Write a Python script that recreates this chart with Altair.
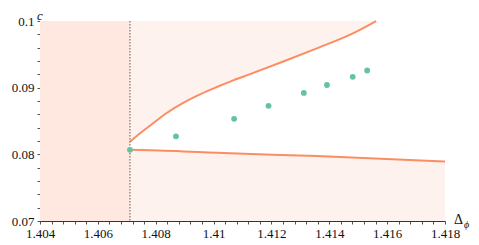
import altair as alt
import pandas as pd

# ---- data ----
x_major = [1.404, 1.406, 1.408, 1.41, 1.412, 1.414, 1.416, 1.418]
y_major = [0.07, 0.08, 0.09, 0.1]
x_ticks = [round(1.404 + 0.0004 * k, 4) for k in range(36)]
y_ticks = [round(0.07 + 0.002 * k, 3) for k in range(16)]

x_bound = 1.40711  # dotted vertical line

upper_x = [1.40711, 1.40746, 1.40780, 1.40838, 1.40895, 1.40953, 1.41011,
           1.41068, 1.41126, 1.41241, 1.41357, 1.41472, 1.41562]
upper_c = [0.08187, 0.08315, 0.08429, 0.08620, 0.08772, 0.08900, 0.09010,
           0.09110, 0.09203, 0.09392, 0.09590, 0.09795, 0.1000]

lower_x = [1.40711, 1.40780, 1.41057, 1.41357, 1.41800]
lower_c = [0.08067, 0.08062, 0.08015, 0.07975, 0.07893]

pts_x = [1.40711, 1.40870, 1.41071, 1.41190, 1.41312, 1.41392, 1.41481, 1.41531]
pts_c = [0.08067, 0.08270, 0.08533, 0.08727, 0.08921, 0.09040, 0.09163, 0.09258]

xdom = [1.404, 1.418]
ydom = [0.07, 0.1]

ORANGE = "#fc8d62"
GREEN = "#66c2a5"
FONT = "Liberation Serif"

up = pd.DataFrame({"x": upper_x, "c": upper_c})
lo = pd.DataFrame({"x": lower_x, "c": lower_c})
pts = pd.DataFrame({"x": pts_x, "c": pts_c})

xs = alt.Scale(domain=xdom, nice=False, zero=False)
ys = alt.Scale(domain=ydom, nice=False, zero=False)

lab_x = "indexof(%s, datum.value) >= 0 ? format(datum.value, '~g') : ''" % str(x_major)
lab_y = "indexof(%s, datum.value) >= 0 ? format(datum.value, '~g') : ''" % str(y_major)

x_axis = alt.Axis(values=x_ticks, tickCount=200, labelExpr=lab_x, title=None)
y_axis = alt.Axis(values=y_ticks, tickCount=200, labelExpr=lab_y, title=None)

left_rect = alt.Chart(pd.DataFrame({"x": [xdom[0]], "x2": [x_bound],
                                     "y": [ydom[0]], "y2": [ydom[1]]})).mark_rect(
    color="#fee8e0").encode(
    x=alt.X("x:Q", scale=xs, axis=x_axis), x2="x2:Q",
    y=alt.Y("y:Q", scale=ys, axis=y_axis), y2="y2:Q")

area_up = alt.Chart(up).mark_area(color="#fef2ee", opacity=1, interpolate="monotone").encode(
    x=alt.X("x:Q", scale=xs), y=alt.Y("c:Q", scale=ys), y2=alt.datum(ydom[1]))

area_lo = alt.Chart(lo).mark_area(color="#fef2ee", opacity=1, interpolate="monotone").encode(
    x=alt.X("x:Q", scale=xs), y=alt.Y("c:Q", scale=ys), y2=alt.datum(ydom[0]))

line_up = alt.Chart(up).mark_line(color=ORANGE, strokeWidth=2, interpolate="monotone").encode(
    x=alt.X("x:Q", scale=xs), y=alt.Y("c:Q", scale=ys))
line_lo = alt.Chart(lo).mark_line(color=ORANGE, strokeWidth=2, interpolate="monotone").encode(
    x=alt.X("x:Q", scale=xs), y=alt.Y("c:Q", scale=ys))

rule = alt.Chart(pd.DataFrame({"x": [x_bound]})).mark_rule(
    color="#6a5a55", strokeDash=[1.5, 1.5], strokeWidth=1).encode(
    x=alt.X("x:Q", scale=xs))

points = alt.Chart(pts).mark_circle(color=GREEN, size=34, opacity=1).encode(
    x=alt.X("x:Q", scale=xs), y=alt.Y("c:Q", scale=ys))

t_c = alt.Chart(pd.DataFrame({"t": ["c"]})).mark_text(
    font=FONT, fontSize=13, fontStyle="italic", align="center", baseline="alphabetic",
    color="#111").encode(text="t:N", x=alt.value(0), y=alt.value(-1.5))
t_d = alt.Chart(pd.DataFrame({"t": ["Δ"]})).mark_text(
    font=FONT, fontSize=14, align="center", baseline="alphabetic",
    color="#111").encode(text="t:N", x=alt.value(418.5), y=alt.value(203))
t_phi = alt.Chart(pd.DataFrame({"t": ["ϕ"]})).mark_text(
    font=FONT, fontSize=10, fontStyle="italic", align="left", baseline="alphabetic",
    color="#111").encode(text="t:N", x=alt.value(424), y=alt.value(207))

chart = alt.layer(left_rect, area_up, area_lo, line_up, line_lo, rule, points,
                  t_c, t_d, t_phi).properties(
    width=405, height=200,
    autosize=alt.AutoSizeParams(type="none"),
    padding={"left": 32, "top": 13, "right": 25, "bottom": 22},
).configure_view(stroke=None).configure_axis(
    domainWidth=1, grid=False, tickSize=3, labelPadding=3, labelFlush=False,
    labelOverlap=False, labelFont=FONT, labelFontSize=13, labelColor="#111",
    domainColor="#333", tickColor="#555")

chart.save("out.html", embed_options={"renderer": "svg", "actions": False})
